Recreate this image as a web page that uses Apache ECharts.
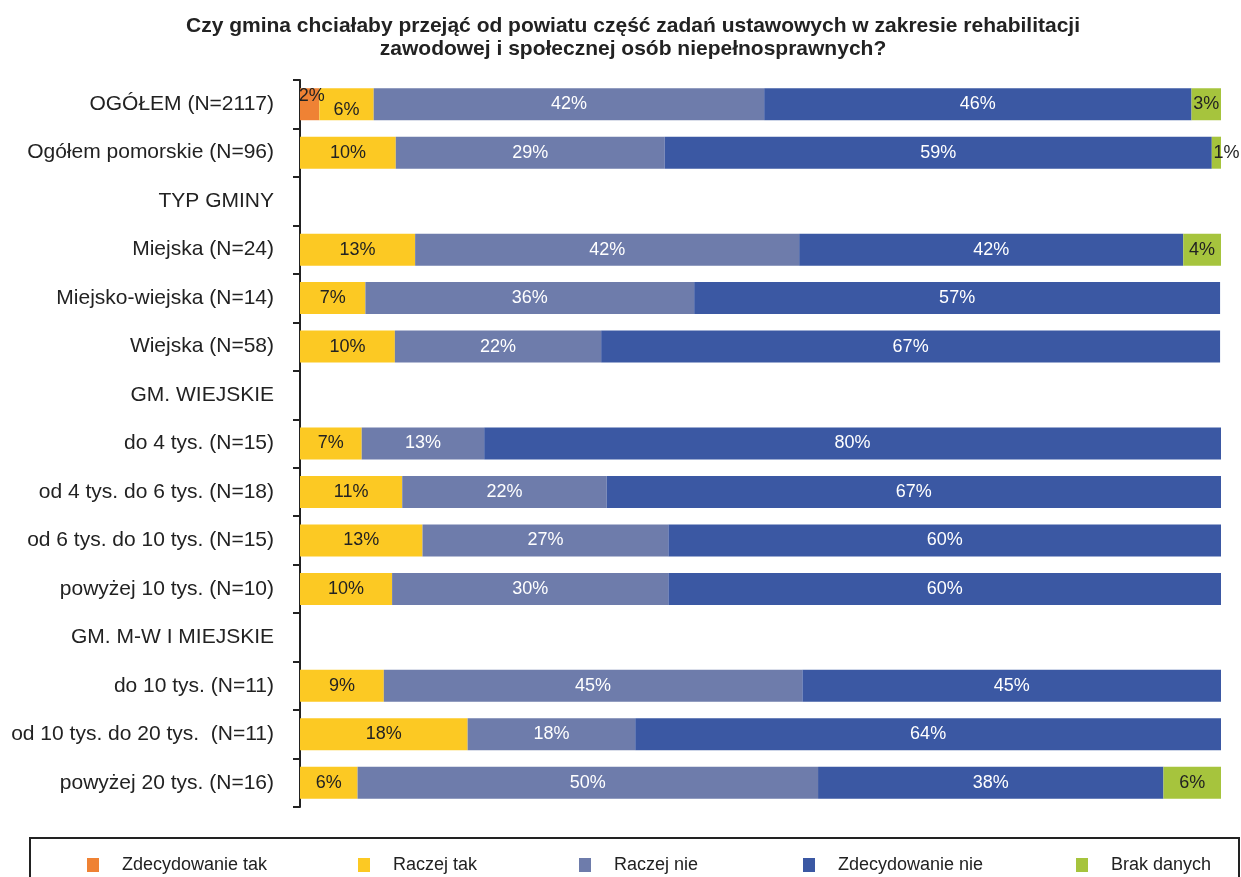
<!DOCTYPE html>
<html>
<head>
<meta charset="utf-8">
<script src="https://cdn.jsdelivr.net/npm/echarts@6/dist/echarts.min.js"></script>
<style>
  html, body { margin: 0; padding: 0; background: #fff; }
  #chart { width: 1241px; height: 877px; }
</style>
</head>
<body>
<div id="chart"></div>
<script>
// kategorie (pusty wiersz = nagłówek grupy)
const categories = [
  'OGÓŁEM (N=2117)',
  'Ogółem pomorskie (N=96)',
  'TYP GMINY',
  'Miejska (N=24)',
  'Miejsko-wiejska (N=14)',
  'Wiejska (N=58)',
  'GM. WIEJSKIE',
  'do 4 tys. (N=15)',
  'od 4 tys. do 6 tys. (N=18)',
  'od 6 tys. do 10 tys. (N=15)',
  'powyżej 10 tys. (N=10)',
  'GM. M-W I MIEJSKIE',
  'do 10 tys. (N=11)',
  'od 10 tys. do 20 tys.  (N=11)',
  'powyżej 20 tys. (N=16)'
]

const seriesNames = ['Zdecydowanie tak', 'Raczej tak', 'Raczej nie', 'Zdecydowanie nie', 'Brak danych']

// wartości w %
const zdecydowanieTak = [2.1, 0, null, 0, 0, 0, null, 0, 0, 0, 0, null, 0, 0, 0]
const raczejTak       = [5.9, 10.4, null, 12.5, 7.1, 10.3, null, 6.7, 11.1, 13.3, 10, null, 9.1, 18.2, 6.25]
const raczejNie       = [42.4, 29.2, null, 41.7, 35.7, 22.4, null, 13.3, 22.2, 26.7, 30, null, 45.45, 18.2, 50]
const zdecydowanieNie = [46.4, 59.4, null, 41.7, 57.1, 67.2, null, 80, 66.7, 60, 60, null, 45.45, 63.6, 37.5]
const brakDanych      = [3.2, 1.0, null, 4.2, 0, 0, null, 0, 0, 0, 0, null, 0, 0, 6.25]

const values = [zdecydowanieTak, raczejTak, raczejNie, zdecydowanieNie, brakDanych]
const colors = ['#EF8234', '#FCC923', '#6E7CAB', '#3B58A3', '#A6C43D']
const labelColors = ['#222', '#222', '#fff', '#fff', '#222']
const fontFamily = 'Liberation Sans, Arial, sans-serif'

const domId = 'chart'
let chart
let option = {}

function labelOffset(seriesIdx, dataIdx){
  // OGÓŁEM: etykiety 2% i 6% rozsunięte pionowo
  if(dataIdx === 0 && seriesIdx === 0) return [2, -8]
  if(dataIdx === 0 && seriesIdx === 1) return [0, 6]
  if(dataIdx === 1 && seriesIdx === 4) return [10, 0]
  return [0, 0]
}

function getOption(){
  const series = seriesNames.map((name, si) => ({
    name,
    type: 'bar',
    stack: 'all',
    barWidth: 32,
    itemStyle: {color: colors[si]},
    label: {
      show: true,
      position: 'inside',
      color: labelColors[si],
      fontSize: 18,
      fontFamily,
      formatter: p => (p.value > 0 ? Math.round(p.value) + '%' : '')
    },
    data: values[si].map((v, di) => ({
      value: v,
      label: {offset: labelOffset(si, di)}
    }))
  }))

  const legendLeft = [82, 353, 574, 798, 1071]
  const legends = seriesNames.map((name, i) => ({
    data: [name],
    left: legendLeft[i],
    top: 851,
    itemWidth: 12,
    itemHeight: 14,
    itemGap: 0,
    icon: 'rect',
    selectedMode: false,
    textStyle: {
      fontSize: 18,
      color: '#222',
      fontFamily,
      padding: [0, 0, 0, 18]
    }
  }))

  option = {
    animation: false,
    title: {
      text: 'Czy gmina chciałaby przejąć od powiatu część zadań ustawowych w zakresie rehabilitacji\nzawodowej i społecznej osób niepełnosprawnych?',
      left: 628,
      textAlign: 'center',
      top: 10,
      textStyle: {
        fontSize: 21,
        fontWeight: 'bold',
        color: '#222',
        lineHeight: 23,
        fontFamily
      }
    },
    legend: legends,
    grid: {left: 300, right: 20, top: 80, bottom: 70},
    xAxis: {
      type: 'value',
      min: 0,
      max: 100,
      show: false
    },
    yAxis: {
      type: 'category',
      inverse: true,
      data: categories,
      axisLine: {lineStyle: {color: '#222', width: 2}},
      axisTick: {show: true, length: 7, lineStyle: {color: '#222', width: 2}},
      axisLabel: {
        fontSize: 21,
        color: '#222',
        margin: 26,
        fontFamily
      }
    },
    graphic: [{
      type: 'rect',
      shape: {x: 30, y: 838, width: 1209, height: 60},
      style: {fill: 'none', stroke: '#222', lineWidth: 2}
    }],
    series
  }
}

function initChart(){
  let dom = document.getElementById(domId)
  dom && (chart = echarts.init(dom))
  getOption()
  chart && chart.setOption(option)
}

initChart()
</script>
</body>
</html>
